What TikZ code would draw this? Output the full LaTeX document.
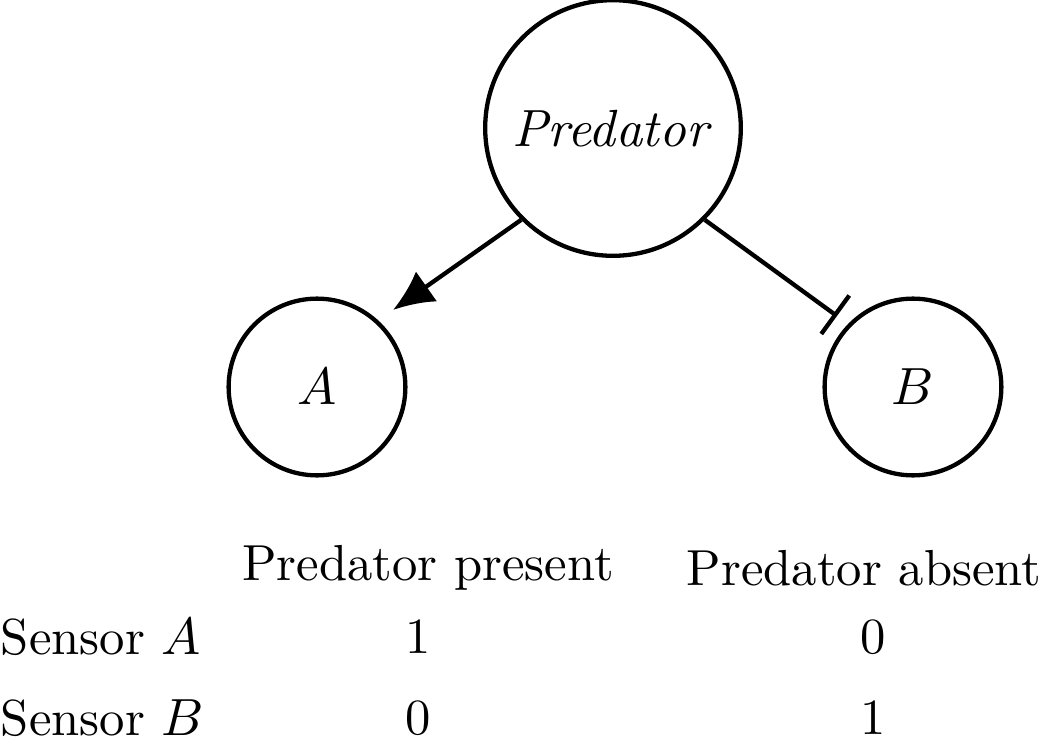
\documentclass[tikz,border=0pt]{standalone}
\usetikzlibrary{arrows.meta}
\begin{document}
\begin{tikzpicture}[x=0.00735cm,y=-0.00735cm,
  cnode/.style={circle,draw,line width=0.9pt,inner sep=0pt},
  conn/.style={line width=0.9pt},
  txt/.style={font=\fontsize{10.6}{12}\selectfont}]
\useasboundingbox (0,0) rectangle (1040,756);
\node[cnode,minimum size=1.88cm,txt] (P) at (613,128) {$\mathit{Predator}$};
\node[cnode,minimum size=1.3cm,txt] (A) at (317,387) {$A$};
\node[cnode,minimum size=1.3cm,txt] (B) at (913,387) {$B$};
\coordinate (aend) at (393,310);
\coordinate (bend) at (837,316);
\draw[conn,-{Latex[length=0.3cm,width=0.27cm]}] (P.-135) -- (aend);
\draw[conn,-{Bar[width=0.35cm]}] (P.-45) -- (bend);
\node[txt] (h1) at (428,568) {Predator present};
\node[txt] (h2) at (864,568) {Predator absent};
\node[txt,anchor=west,inner sep=0pt] (s1) at (0,637) {Sensor $A$};
\node[txt,anchor=west,inner sep=0pt] (s2) at (0,718) {Sensor $B$};
\node[txt] (v11) at (418,637) {1};
\node[txt] (v12) at (873,637) {0};
\node[txt] (v21) at (418,718) {0};
\node[txt] (v22) at (873,718) {1};
\end{tikzpicture}
\end{document}
